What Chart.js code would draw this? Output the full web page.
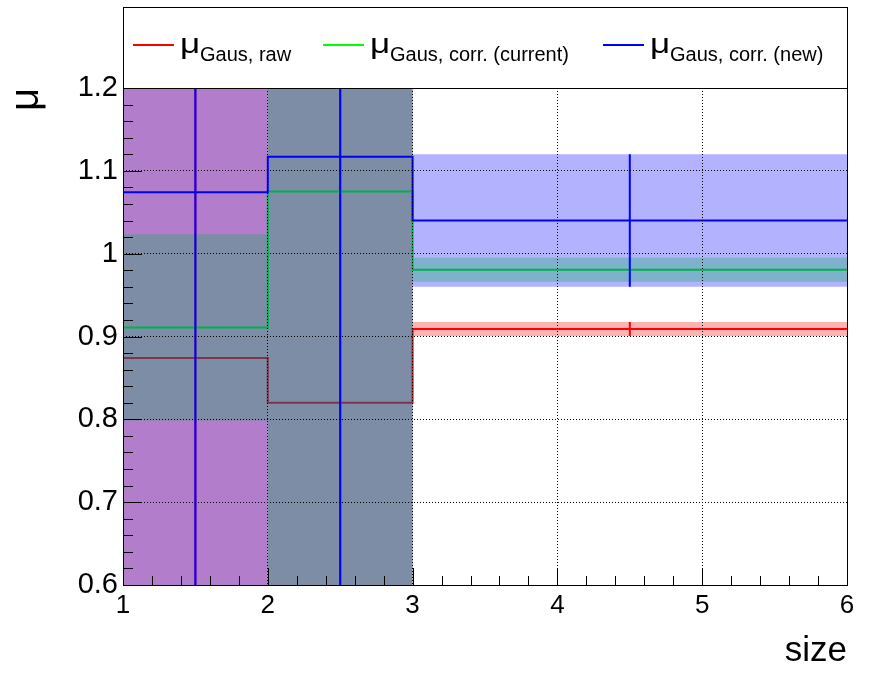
<!DOCTYPE html>
<html>
<head>
<meta charset="utf-8">
<script src="https://cdn.jsdelivr.net/npm/chart.js@4.4.1/dist/chart.umd.min.js"></script>
<style>
  html, body { margin: 0; padding: 0; background: #fff; }
  #wrap { position: relative; width: 883px; height: 681px; }
  #legend { position: absolute; border: 1px solid #000; box-sizing: border-box; }
  .key { position: absolute; height: 2px; }
  .mu, .sub { position: absolute; font-family: 'Liberation Sans', Arial, sans-serif; line-height: 1; white-space: nowrap; color: #000; }
  .mu { font-size: 28px; transform: scaleX(1.25); transform-origin: left center; }
  .sub { font-size: 20px; }
</style>
</head>
<body>
<div id="wrap">
  <canvas id="c" width="883" height="681"></canvas>
  <div id="legend"></div>
</div>
<script>
// bins of "size"
const binEdges = [1, 2, 3, 6]
const binCenters = [1.5, 2.5, 4.5]

// mu_Gaus per bin (errors beyond the frame are estimates)
const rawMu = [0.874, 0.820, 0.909]
const rawErr = [0.45, 0.50, 0.0085]
const corrMu = [0.911, 1.075, 0.9805]
const corrErr = [0.1125, 0.55, 0.0145]
const newMu = [1.074, 1.117, 1.040]
const newErr = [0.55, 0.60, 0.080]

const seriesNames = ['Gaus, raw', 'Gaus, corr. (current)', 'Gaus, corr. (new)']

const xTicks = [1, 2, 3, 4, 5, 6]
const xTickLabels = ['1', '2', '3', '4', '5', '6']
const yTicks = [0.6, 0.7, 0.8, 0.9, 1.0, 1.1, 1.2]
const yTickLabels = ['0.6', '0.7', '0.8', '0.9', '1', '1.1', '1.2']

const FONT = 'Liberation Sans'
const RED = 'rgb(255,0,0)'
const GREEN = 'rgb(0,255,0)'
const BLUE = 'rgb(0,0,255)'

// histogram outline: value of bin i holds from edge i to edge i+1
function steps(vals) {
  const pts = vals.map((v, i) => ({ x: binEdges[i], y: v }))
  pts.push({ x: binEdges[binEdges.length - 1], y: vals[vals.length - 1] })
  return pts
}

// vertical error bars at bin centres, broken by null points
function errBars(mu, err) {
  const pts = []
  binCenters.forEach((c, i) => {
    pts.push({ x: c, y: mu[i] - err[i] }, { x: c, y: mu[i] + err[i] }, { x: c, y: null })
  })
  return pts
}

function lineDs(data, color, order) {
  return { data, borderColor: color, borderWidth: 2, stepped: true, pointRadius: 0, fill: false, order, clip: 0 }
}

function barDs(data, color, order) {
  return { data, borderColor: color, borderWidth: 2, pointRadius: 0, fill: false, spanGaps: false, order, clip: 0 }
}

// band = upper edge filled down to the dataset right after it
function bandDs(mu, err, fillColor, order) {
  const hi = steps(mu.map((m, i) => m + err[i]))
  const lo = steps(mu.map((m, i) => m - err[i]))
  return [
    { data: hi, borderWidth: 0, stepped: true, pointRadius: 0, fill: '+1', backgroundColor: fillColor, order },
    { data: lo, borderWidth: 0, stepped: true, pointRadius: 0, fill: false, order: order - 0.1 },
  ]
}

// ROOT style frame with inside ticks
const rootFrame = {
  id: 'rootFrame',
  afterDraw(chart) {
    const { ctx, chartArea: a, scales } = chart
    const x = scales.x
    const y = scales.y
    ctx.save()
    ctx.strokeStyle = '#000'
    ctx.lineWidth = 1
    ctx.beginPath()
    for (let k = 0; k <= 30; k++) {
      const py = Math.round(y.getPixelForValue(0.6 + k * 0.02)) + 0.5
      const len = k % 5 === 0 ? 19 : 10
      ctx.moveTo(a.left, py)
      ctx.lineTo(a.left + len, py)
    }
    for (let k = 0; k <= 25; k++) {
      const px = Math.round(x.getPixelForValue(1 + k * 0.2)) + 0.5
      const len = k % 5 === 0 ? 17 : 9
      ctx.moveTo(px, a.bottom)
      ctx.lineTo(px, a.bottom - len)
    }
    ctx.stroke()
    ctx.strokeRect(Math.round(a.left) + 0.5, Math.round(a.top) + 0.5,
      Math.round(a.right - a.left), Math.round(a.bottom - a.top))
    ctx.restore()
  },
}

const datasets = [
  lineDs(steps(rawMu), RED, 10),
  ...bandDs(rawMu, rawErr, 'rgba(255,0,0,0.3)', 9),
  barDs(errBars(rawMu, rawErr), RED, 8.5),
  lineDs(steps(corrMu), GREEN, 8),
  ...bandDs(corrMu, corrErr, 'rgba(0,255,0,0.3)', 7),
  ...bandDs(newMu, newErr, 'rgba(0,0,255,0.3)', 6),
  lineDs(steps(newMu), BLUE, 1),
  barDs(errBars(newMu, newErr), BLUE, 0),
]

const chart = new Chart(document.getElementById('c'), {
  type: 'line',
  data: { datasets },
  options: {
    responsive: false,
    animation: false,
    devicePixelRatio: 1,
    layout: { padding: { top: 88, right: 36, bottom: 0, left: 0 } },
    plugins: {
      legend: { display: false },
      tooltip: { enabled: false },
      filler: { drawTime: 'beforeDatasetDraw' },
    },
    scales: {
      x: {
        type: 'linear',
        min: 1,
        max: 6,
        afterBuildTicks: (s) => { s.ticks = xTicks.map((v) => ({ value: v })) },
        afterFit: (s) => { s.height = 96 },
        ticks: {
          autoSkip: false,
          maxRotation: 0,
          padding: 5,
          color: '#000',
          font: { family: FONT, size: 26 },
          callback: (v) => xTickLabels[xTicks.indexOf(v)],
        },
        grid: { color: '#000', lineWidth: 1, drawTicks: false, z: 1 },
        border: { display: false, dash: [1, 2] },
        title: {
          display: true,
          text: 'size',
          align: 'end',
          color: '#000',
          font: { family: FONT, size: 35 },
          padding: { top: 0, bottom: 9 },
        },
      },
      y: {
        type: 'linear',
        min: 0.6,
        max: 1.2,
        afterBuildTicks: (s) => { s.ticks = yTicks.map((v) => ({ value: v })) },
        afterFit: (s) => { s.width = 123 },
        ticks: {
          padding: 5,
          color: '#000',
          font: { family: FONT, size: 29 },
          callback: (v) => yTickLabels[yTicks.indexOf(v)],
        },
        grid: { color: '#000', lineWidth: 1, drawTicks: false, z: 1 },
        border: { display: false, dash: [1, 2] },
        title: {
          display: true,
          text: 'μ',
          align: 'end',
          color: '#000',
          font: { family: FONT, size: 40 },
          padding: { top: 3, bottom: 0 },
        },
      },
    },
  },
  plugins: [rootFrame],
})

// legend box sitting on top of the frame, with subscripted entries
const area = chart.chartArea
const legend = document.getElementById('legend')
legend.style.left = Math.round(area.left) + 'px'
legend.style.top = '7px'
legend.style.width = Math.round(area.right - area.left) + 1 + 'px'
legend.style.height = Math.round(area.top) - 7 + 1 + 'px'

const wrap = document.getElementById('wrap')
const keyLeft = [133, 323, 603]
const keyColors = [RED, GREEN, BLUE]
seriesNames.forEach((name, i) => {
  const key = document.createElement('div')
  key.className = 'key'
  key.style.left = keyLeft[i] + 'px'
  key.style.top = '44px'
  key.style.width = '41px'
  key.style.background = keyColors[i]
  wrap.appendChild(key)

  const mu = document.createElement('span')
  mu.className = 'mu'
  mu.textContent = 'μ'
  mu.style.left = keyLeft[i] + 47 + 'px'
  mu.style.top = '30px'
  wrap.appendChild(mu)

  const sub = document.createElement('span')
  sub.className = 'sub'
  sub.textContent = name
  sub.style.left = keyLeft[i] + 67 + 'px'
  sub.style.top = '44px'
  wrap.appendChild(sub)
})
</script>
</body>
</html>
